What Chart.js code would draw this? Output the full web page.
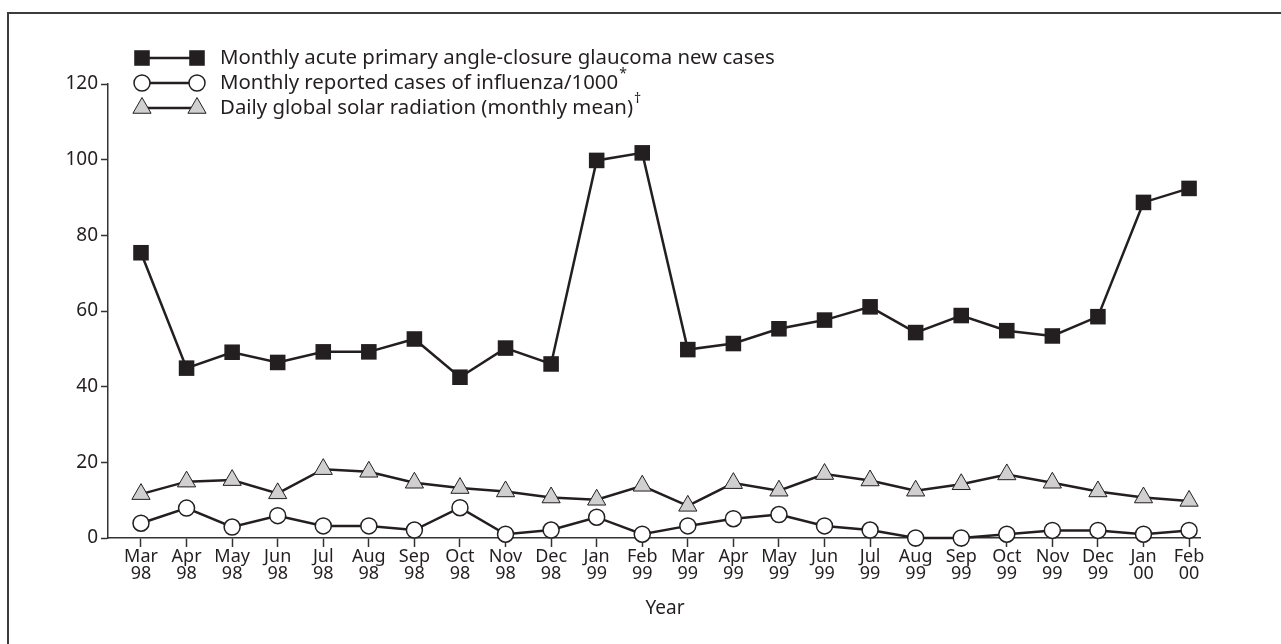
<!DOCTYPE html>
<html>
<head>
<meta charset="utf-8">
<script src="https://cdn.jsdelivr.net/npm/chart.js"></script>
<style>
  html, body { margin: 0; padding: 0; background: #fff; overflow: hidden; }
  #wrap { position: relative; width: 1281px; height: 644px; }
  #frame { position: absolute; left: 7px; top: 12px; width: 1400px; height: 800px;
           border-left: 2px solid #3c3c3c; border-top: 2px solid #3c3c3c; box-sizing: border-box; pointer-events: none; }
  canvas { position: absolute; left: 0; top: 0; }
</style>
</head>
<body>
<div id="wrap">
  <canvas id="c" width="1281" height="644"></canvas>
  <div id="frame"></div>
</div>
<script>
// ---- data ----
const categories = ['Mar 98','Apr 98','May 98','Jun 98','Jul 98','Aug 98','Sep 98','Oct 98','Nov 98','Dec 98',
                    'Jan 99','Feb 99','Mar 99','Apr 99','May 99','Jun 99','Jul 99','Aug 99','Sep 99','Oct 99',
                    'Nov 99','Dec 99','Jan 00','Feb 00'];
const glaucomaCases = [75.4, 44.9, 49.1, 46.4, 49.2, 49.2, 52.6, 42.5, 50.2, 46.0, 99.8, 101.8,
                       49.8, 51.4, 55.3, 57.6, 61.1, 54.3, 58.8, 54.8, 53.4, 58.5, 88.7, 92.4];
const influenzaCases = [3.9, 7.9, 2.9, 5.9, 3.2, 3.2, 2.1, 8.0, 1.0, 2.1, 5.5, 1.0,
                        3.2, 5.1, 6.2, 3.2, 2.1, 0, 0, 1.0, 2.0, 2.0, 1.0, 2.0];
const solarRadiation = [11.6, 14.9, 15.3, 11.8, 18.2, 17.5, 14.6, 13.2, 12.3, 10.7, 10.1, 13.8,
                        8.5, 14.5, 12.5, 16.9, 15.2, 12.5, 14.2, 16.8, 14.6, 12.3, 10.7, 9.8];
const yTicks = [0, 20, 40, 60, 80, 100, 120];
const seriesNames = ['Monthly acute primary angle-closure glaucoma new cases',
                     'Monthly reported cases of influenza/1000',
                     'Daily global solar radiation (monthly mean)'];
const seriesSup = ['', '*', '\u2020'];
const xTitle = 'Year';

const INK = '#231f20';
const FONT = '"Noto Sans", "Open Sans", Arial, sans-serif';

const toXY = arr => arr.map((v, i) => ({x: i, y: v}));

function drawMarker(ctx, style, r, x, y, fill, stroke, bw) {
  ctx.save();
  ctx.beginPath();
  if (style === 'rect') {
    const s = Math.SQRT1_2 * r;
    ctx.rect(x - s, y - s, 2 * s, 2 * s);
  } else if (style === 'triangle') {
    let rad = 0;
    ctx.moveTo(x + Math.sin(rad) * r, y - Math.cos(rad) * r);
    rad += 2 * Math.PI / 3;
    ctx.lineTo(x + Math.sin(rad) * r, y - Math.cos(rad) * r);
    rad += 2 * Math.PI / 3;
    ctx.lineTo(x + Math.sin(rad) * r, y - Math.cos(rad) * r);
    ctx.closePath();
  } else {
    ctx.arc(x, y, r, 0, Math.PI * 2);
  }
  ctx.fillStyle = fill; ctx.fill();
  if (bw > 0) { ctx.lineWidth = bw; ctx.strokeStyle = stroke; ctx.stroke(); }
  ctx.restore();
}

const legendPlugin = {
  id: 'pairLegend',
  afterDraw(chart) {
    const ctx = chart.ctx;
    const rows = [58, 83, 108];
    const x1 = 142, x2 = 197, tx = 220;
    chart.data.datasets.forEach((ds, i) => {
      const y = rows[i];
      ctx.save();
      ctx.strokeStyle = INK; ctx.lineWidth = 2.5;
      ctx.beginPath(); ctx.moveTo(x1, y); ctx.lineTo(x2, y); ctx.stroke();
      drawMarker(ctx, ds.pointStyle, ds.pointRadius, x1, y, ds.pointBackgroundColor, ds.pointBorderColor, ds.pointBorderWidth);
      drawMarker(ctx, ds.pointStyle, ds.pointRadius, x2, y, ds.pointBackgroundColor, ds.pointBorderColor, ds.pointBorderWidth);
      ctx.fillStyle = INK;
      ctx.font = '20.4px ' + FONT;
      ctx.textBaseline = 'middle';
      ctx.textAlign = 'left';
      ctx.fillText(seriesNames[i], tx, y);
      if (seriesSup[i]) {
        const w = ctx.measureText(seriesNames[i]).width;
        ctx.font = '14px ' + FONT;
        ctx.fillText(seriesSup[i], tx + w + 1, y - 9);
      }
      ctx.restore();
    });
    // axis title
    ctx.save();
    ctx.fillStyle = INK;
    ctx.font = '19px ' + FONT;
    ctx.textAlign = 'center';
    ctx.textBaseline = 'middle';
    ctx.fillText(xTitle, 665, 609);
    ctx.restore();
  }
};

const chart = new Chart(document.getElementById('c'), {
  type: 'line',
  data: {
    datasets: [
      { label: seriesNames[0], data: toXY(glaucomaCases), borderColor: INK, borderWidth: 2.5,
        pointStyle: 'rect', pointRadius: 11, pointBackgroundColor: INK, pointBorderColor: INK, pointBorderWidth: 0,
        tension: 0, clip: false, order: 1 },
      { label: seriesNames[1], data: toXY(influenzaCases), borderColor: INK, borderWidth: 2.5,
        pointStyle: 'circle', pointRadius: 8, pointBackgroundColor: '#ffffff', pointBorderColor: INK, pointBorderWidth: 1.5,
        tension: 0, clip: false, order: 3 },
      { label: seriesNames[2], data: toXY(solarRadiation), borderColor: INK, borderWidth: 2.5,
        pointStyle: 'triangle', pointRadius: 10.5, pointBackgroundColor: '#d0d0d0', pointBorderColor: INK, pointBorderWidth: 1,
        tension: 0, clip: false, order: 2 }
    ]
  },
  options: {
    responsive: false,
    animation: false,
    events: [],
    layout: { padding: { left: 0, top: 84, right: 81, bottom: 0 } },
    plugins: { legend: { display: false }, tooltip: { enabled: false } },
    scales: {
      x: {
        type: 'linear',
        min: -0.724, max: 23.24,
        afterBuildTicks(scale) { scale.ticks = categories.map((_, i) => ({ value: i })); },
        afterFit(scale) { scale.height = 106; },
        ticks: {
          autoSkip: false, maxRotation: 0, padding: 1,
          color: INK, font: { family: FONT, size: 18, lineHeight: 0.95 },
          callback: v => categories[v] ? categories[v].split(' ') : ''
        },
        grid: { drawOnChartArea: false, drawTicks: true, tickLength: 9, tickColor: '#333', tickWidth: 1.5 },
        border: { display: true, color: '#333', width: 1.5 }
      },
      y: {
        min: 0, max: 120,
        afterBuildTicks(scale) { scale.ticks = yTicks.map(v => ({ value: v })); },
        afterFit(scale) { scale.width = 108; },
        ticks: { padding: 3, color: INK, font: { family: FONT, size: 19 } },
        grid: { drawOnChartArea: false, drawTicks: true, tickLength: 7, tickColor: '#333', tickWidth: 1.5 },
        border: { display: true, color: '#333', width: 1.5 }
      }
    }
  },
  plugins: [legendPlugin]
});
</script>
</body>
</html>
